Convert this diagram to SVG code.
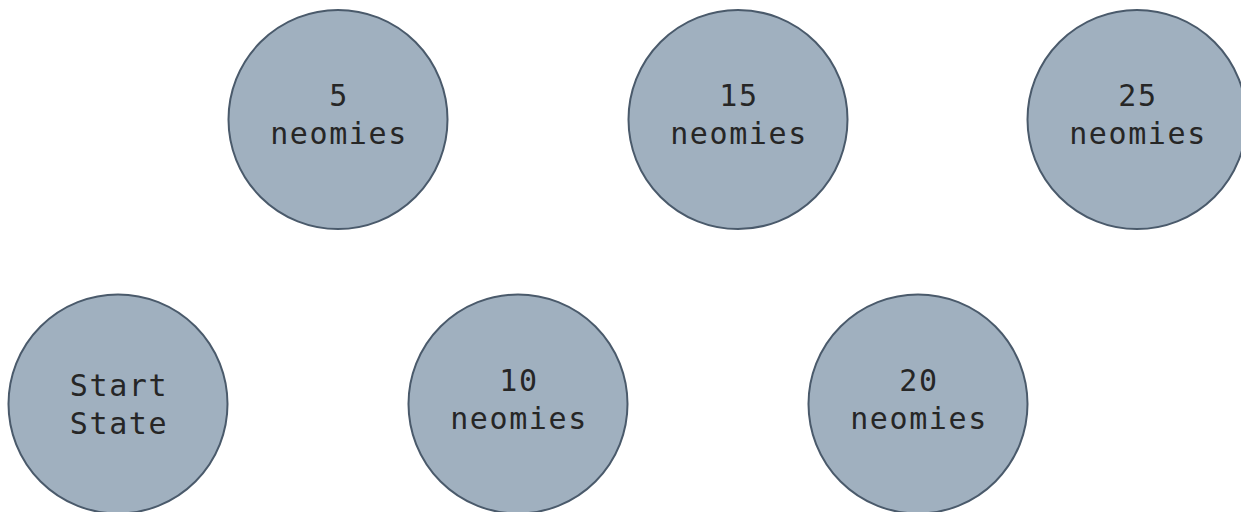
<svg xmlns="http://www.w3.org/2000/svg" width="1241" height="512" viewBox="0 0 1241 512">
  <style>
    .state { fill: #a0b0bf; stroke: #4a5a6b; stroke-width: 2; }
    .label { font-family: "DejaVu Sans Mono", monospace; font-size: 30px; fill: #262626; text-anchor: middle; letter-spacing: 1.6px; }
  </style>
  <rect width="1241" height="512" fill="#ffffff"/>
  <g id="connectors"></g>
  <g id="start-state">
    <circle class="state" cx="118" cy="404" r="109.5"/>
    <text class="label" x="119" y="396">Start</text>
    <text class="label" x="119" y="434">State</text>
  </g>
  <g id="neomies-5">
    <circle class="state" cx="338" cy="119.5" r="109.5"/>
    <text class="label" x="339" y="106">5</text>
    <text class="label" x="339" y="144">neomies</text>
  </g>
  <g id="neomies-10">
    <circle class="state" cx="518" cy="404" r="109.5"/>
    <text class="label" x="519" y="391">10</text>
    <text class="label" x="519" y="429">neomies</text>
  </g>
  <g id="neomies-15">
    <circle class="state" cx="738" cy="119.5" r="109.5"/>
    <text class="label" x="739" y="106">15</text>
    <text class="label" x="739" y="144">neomies</text>
  </g>
  <g id="neomies-20">
    <circle class="state" cx="918" cy="404" r="109.5"/>
    <text class="label" x="919" y="391">20</text>
    <text class="label" x="919" y="429">neomies</text>
  </g>
  <g id="neomies-25">
    <circle class="state" cx="1137" cy="119.5" r="109.5"/>
    <text class="label" x="1138" y="106">25</text>
    <text class="label" x="1138" y="144">neomies</text>
  </g>
</svg>
